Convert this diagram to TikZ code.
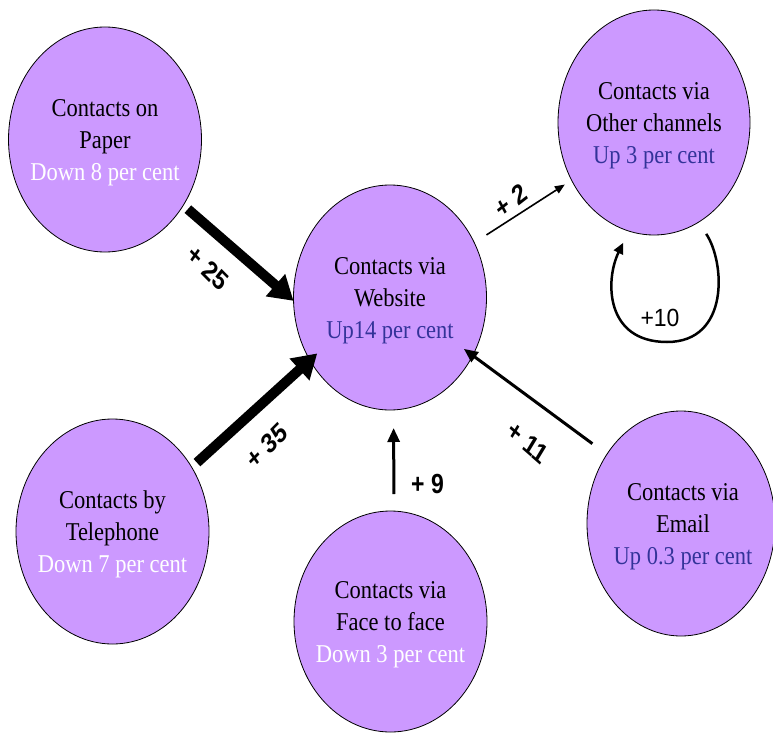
\documentclass[tikz,border=0pt]{standalone}
\usepackage{fontspec}
\usepackage{graphicx}
\setmainfont{Liberation Serif}
\newfontfamily\lblfont{Liberation Sans}
\usetikzlibrary{shapes.geometric,arrows.meta}
\definecolor{purp}{HTML}{CC99FF}
\definecolor{upblue}{HTML}{333399}
\newcommand\stxt[1]{\scalebox{1}[1.14]{\fontsize{22.5}{27.8}\selectfont\begin{tabular}{@{}c@{}}#1\end{tabular}}}
\tikzset{
  bubble/.style={ellipse, draw=black, line width=0.8pt, fill=purp, inner sep=0pt, outer sep=0pt,
    minimum width=193pt, minimum height=225pt},
  btxt/.style={inner sep=0pt, yshift=-2.5pt},
  lbl/.style={font=\lblfont\bfseries\fontsize{23}{23}\selectfont, inner sep=0pt, yscale=1.2, transform shape},
  lblreg/.style={font=\lblfont\fontsize{23}{23}\selectfont, inner sep=0pt, yscale=1.08, transform shape},
  bigarrow/.style={line width=10pt, -{Triangle[length=24pt,width=28pt]}},
  midarrow/.style={line width=3pt, -{Triangle[length=14pt,width=12pt]}},
  thinarrow/.style={line width=1.6pt, -{Triangle[length=10pt,width=8pt]}},
  looparrow/.style={line width=2.5pt, -{Triangle[length=11pt,width=10pt]}}
}
\begin{document}
\begin{tikzpicture}[x=1pt,y=-1pt]
\path[use as bounding box] (0,0) rectangle (773,733);
\begin{scope}
\clip (0,0) rectangle (773,733);
\node[bubble] (paper) at (105,139.5) {};
\node[bubble] (web) at (390,297.5) {};
\node[bubble, minimum width=192pt] (oth) at (654,122.5) {};
\node[bubble] (tel) at (112.5,531.5) {};
\node[bubble, minimum height=221pt] (face) at (390.5,621.5) {};
\node[bubble, minimum width=188pt] (email) at (681,523.5) {};
\end{scope}
\node[btxt] (paper-t) at (paper.center) {\stxt{Contacts on\\Paper\\\textcolor{white}{Down 8 per cent}}};
\node[btxt] (web-t) at (web.center) {\stxt{Contacts via\\Website\\\textcolor{upblue}{Up14 per cent}}};
\node[btxt] (oth-t) at (oth.center) {\stxt{Contacts via\\Other channels\\\textcolor{upblue}{Up 3 per cent}}};
\node[btxt] (tel-t) at (tel.center) {\stxt{Contacts by\\Telephone\\\textcolor{white}{Down 7 per cent}}};
\node[btxt] (face-t) at (face.center) {\stxt{Contacts via\\Face to face\\\textcolor{white}{Down 3 per cent}}};
\node[btxt] (email-t) at ([xshift=2pt]email.center) {\stxt{Contacts via\\Email\\\textcolor{upblue}{Up 0.3 per cent}}};

\draw[bigarrow, shorten <=6pt] (paper.-40) -- (web.182);
\draw[bigarrow, shorten <=7pt, shorten >=-10pt] (tel.39) -- (web.218);
\draw[midarrow, shorten <=17pt, shorten >=18pt] ([xshift=3.5pt]face.north) -- ([xshift=3.5pt]web.south);
\draw[midarrow, shorten <=18pt, shorten >=-11pt] (email.137.5) -- (web.-35);
\draw[thinarrow, shorten <=14.5pt, shorten >=8pt] (web.33) -- (oth.215);
\draw[looparrow, shorten <=14pt, shorten >=13pt] (oth.-66.6) .. controls (725,262) and (730,342) .. (667,342)
  .. controls (605,342) and (605,280) .. (oth.257.7);

\node[lbl, rotate=-40] (l25) at (208,268) {+ 25};
\node[lbl, rotate=40] (l35) at (267,446) {+ 35};
\node[lbl] (l9) at (427.5,483.5) {+ 9};
\node[lbl, rotate=-36] (l11) at (528,442) {+ 11};
\node[lbl, rotate=33] (l2) at (511,201) {+ 2};
\node[lblreg] (l10) at (660,317.5) {+10};
\end{tikzpicture}
\end{document}
